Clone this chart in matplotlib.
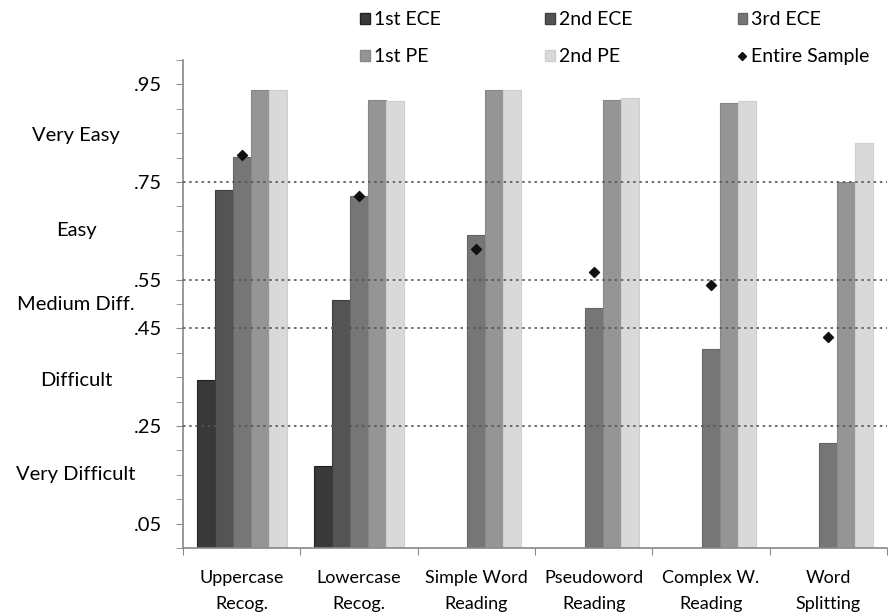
import matplotlib
matplotlib.use("Agg")
import matplotlib.pyplot as plt
import numpy as np
from matplotlib.lines import Line2D
from matplotlib.patches import Patch

plt.rcParams['font.family'] = ['Lato', 'DejaVu Sans']

categories = ["Uppercase\nRecog.", "Lowercase\nRecog.", "Simple Word\nReading",
              "Pseudoword\nReading", "Complex W.\nReading", "Word\nSplitting"]
series_names = ["1st ECE", "2nd ECE", "3rd ECE", "1st PE", "2nd PE"]
ece1 = [0.345, 0.168, 0, 0, 0, 0]
ece2 = [0.733, 0.509, 0, 0, 0, 0]
ece3 = [0.802, 0.722, 0.642, 0.492, 0.408, 0.215]
pe1 = [0.938, 0.918, 0.938, 0.918, 0.911, 0.749]
pe2 = [0.938, 0.915, 0.938, 0.922, 0.915, 0.829]
entire = [0.806, 0.722, 0.613, 0.565, 0.539, 0.432]

ytick_vals = [0.05, 0.25, 0.45, 0.55, 0.75, 0.95]
ytick_labels = [".05", ".25", ".45", ".55", ".75", ".95"]
ref_lines = [0.25, 0.45, 0.55, 0.75]
band_labels = ["Very Difficult", "Difficult", "Medium Diff.", "Easy", "Very Easy"]
band_pos = [0.15, 0.343, 0.50, 0.65, 0.845]

colors = ["#393939", "#545454", "#767676", "#959595", "#d9d9d9"]
edges = ["#222222", "#3e3e3e", "#666666", "#878787", "#cfcfcf"]

fig = plt.figure(figsize=(8.9, 6.14), dpi=100)
ax = fig.add_axes([183/890, 1-548/614, (887-183)/890, (548-60)/614])

x = np.arange(len(categories))
bw = 0.153
data = [ece1, ece2, ece3, pe1, pe2]
handles = []
for i, (vals, c, e) in enumerate(zip(data, colors, edges)):
    offs = (i - 2) * bw
    ax.bar(x + offs, vals, width=bw, color=c, edgecolor=e, linewidth=0.8, zorder=2)
    handles.append(Patch(facecolor=c, edgecolor=e, label=series_names[i]))

for v in ref_lines:
    ax.axhline(v, color="#555555", linestyle=(0, (1.5, 2.2)), linewidth=1.2, zorder=3)

ax.scatter(x, entire, marker="D", s=26, color="#111111", zorder=4)
handles.append(Line2D([], [], marker="D", linestyle="none", color="#111111",
                      markersize=4, label="Entire Sample"))

ax.set_xlim(-0.5, len(categories) - 0.5)
ax.set_ylim(0, 1.0)
ax.set_yticks(np.arange(0, 1.0001, 0.05), minor=True)
ax.set_yticks(ytick_vals)
ax.set_yticklabels(ytick_labels, fontsize=14.5)
ax.set_xticks(np.arange(-0.5, len(categories), 1.0))
ax.set_xticklabels([])
ax.set_xticks(x, minor=True)
ax.set_xticklabels(categories, minor=True, fontsize=13, linespacing=1.8)
ax.tick_params(axis="x", which="minor", length=0, pad=15.5)
ax.tick_params(axis="x", which="major", length=5, color="#888888")
ax.tick_params(axis="y", which="both", length=5, color="#888888", pad=10)
for side in ["top", "right"]:
    ax.spines[side].set_visible(False)
for side in ["left", "bottom"]:
    ax.spines[side].set_color("#888888")
    ax.spines[side].set_linewidth(1.2)

for lab, p in zip(band_labels, band_pos):
    ax.text(-0.152, p, lab, transform=ax.get_yaxis_transform(),
            ha="center", va="center", fontsize=14.5)

order = [0, 3, 1, 4, 2, 5]
fig.legend([handles[i] for i in order], [handles[i].get_label() for i in order],
           ncol=3, loc="upper left", bbox_to_anchor=(360/890, 1 - 11/614),
           frameon=False, fontsize=14, handlelength=0.5, handleheight=0.5,
           handletextpad=0.2, columnspacing=5.4, labelspacing=1.05, borderpad=0,
           borderaxespad=0)

fig.savefig("out.png", dpi=100)
